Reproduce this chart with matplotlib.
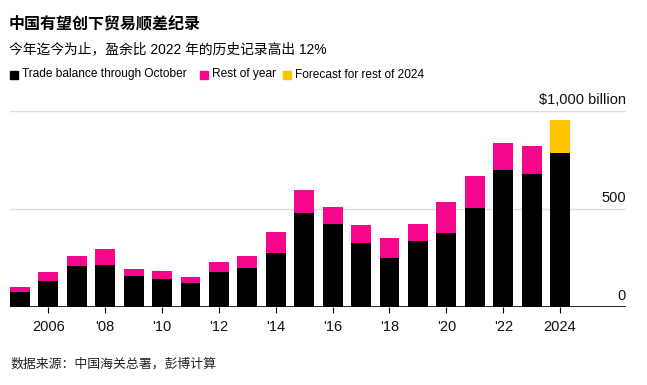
import numpy as np
import matplotlib.pyplot as plt
from matplotlib.patches import Rectangle

plt.rcParams['font.family'] = ['Liberation Sans', 'Noto Sans CJK SC', 'DejaVu Sans']

years = np.arange(2005, 2025)
thru_oct = [78, 133, 213, 218, 160, 146, 124, 180, 201, 277,
            479, 427, 326, 253, 337, 381, 507, 702, 680, 786]
rest_of_year = [24, 46, 51, 78, 36, 38, 32, 51, 59, 107,
                118, 83, 94, 101, 86, 155, 165, 138, 143, 0]
forecast = [0] * 19 + [169]
tick_years = list(range(2006, 2025, 2))
tick_labels = ['2006', "'08", "'10", "'12", "'14", "'16", "'18", "'20", "'22", '2024']

black = '#000000'
pink = '#f5078c'
yellow = '#ffc400'

W, H = 647, 385
fig = plt.figure(figsize=(W / 100, H / 100), dpi=100)
ax = fig.add_axes([10 / W, 1 - 307.3 / H, 616 / W, 196 / H])

ax.bar(years, thru_oct, width=0.7, color=black, zorder=3)
ax.bar(years, rest_of_year, width=0.7, bottom=thru_oct, color=pink, zorder=3)
tops = np.array(thru_oct) + np.array(rest_of_year)
ax.bar(years, forecast, width=0.7, bottom=tops, color=yellow, zorder=3)

ax.set_xlim(2004.65, 2026.32)
ax.set_ylim(0, 1000)
for v in [500, 1000]:
    ax.axhline(v, color='#dddddd', lw=1, zorder=1)
ax.axhline(0, color='black', lw=1.2, zorder=4)

for s in ax.spines.values():
    s.set_visible(False)
ax.set_yticks([])
ax.set_xticks(tick_years)
ax.set_xticklabels(tick_labels, fontsize=10.5, color='#111111')
ax.tick_params(axis='x', length=4, width=0.8, color='black', pad=5)

yt = ax.get_yaxis_transform()
for v, lab in [(0, '0'), (500, '500'), (1000, '$1,000 billion')]:
    ax.text(1.0, v + 20, lab, transform=yt, ha='right', va='bottom',
            fontsize=10.5, color='#111111')

fig.text(9 / W, 1 - 23.5 / H, '中国有望创下贸易顺差纪录', fontsize=11.5, fontweight='bold',
         va='center', ha='left')
fig.text(9 / W, 1 - 49 / H, '今年迄今为止，盈余比 2022 年的历史记录高出 12%', fontsize=9.9,
         va='center', ha='left')

legend = [(10, 22, black, 'Trade balance through October'),
          (200, 212, pink, 'Rest of year'),
          (283, 295, yellow, 'Forecast for rest of 2024')]
for sx, tx, c, lab in legend:
    fig.patches.append(Rectangle((sx / W, 1 - 78.5 / H), 8 / W, 8 / H, color=c,
                                 transform=fig.transFigure))
    fig.text(tx / W, 1 - 74.5 / H, lab, fontsize=8.6, va='center', ha='left')

fig.text(10 / W, 1 - 364 / H, '数据来源：中国海关总署，彭博计算', fontsize=9.3, va='center',
         ha='left', color='#222222')

fig.savefig('out.png', dpi=100)
